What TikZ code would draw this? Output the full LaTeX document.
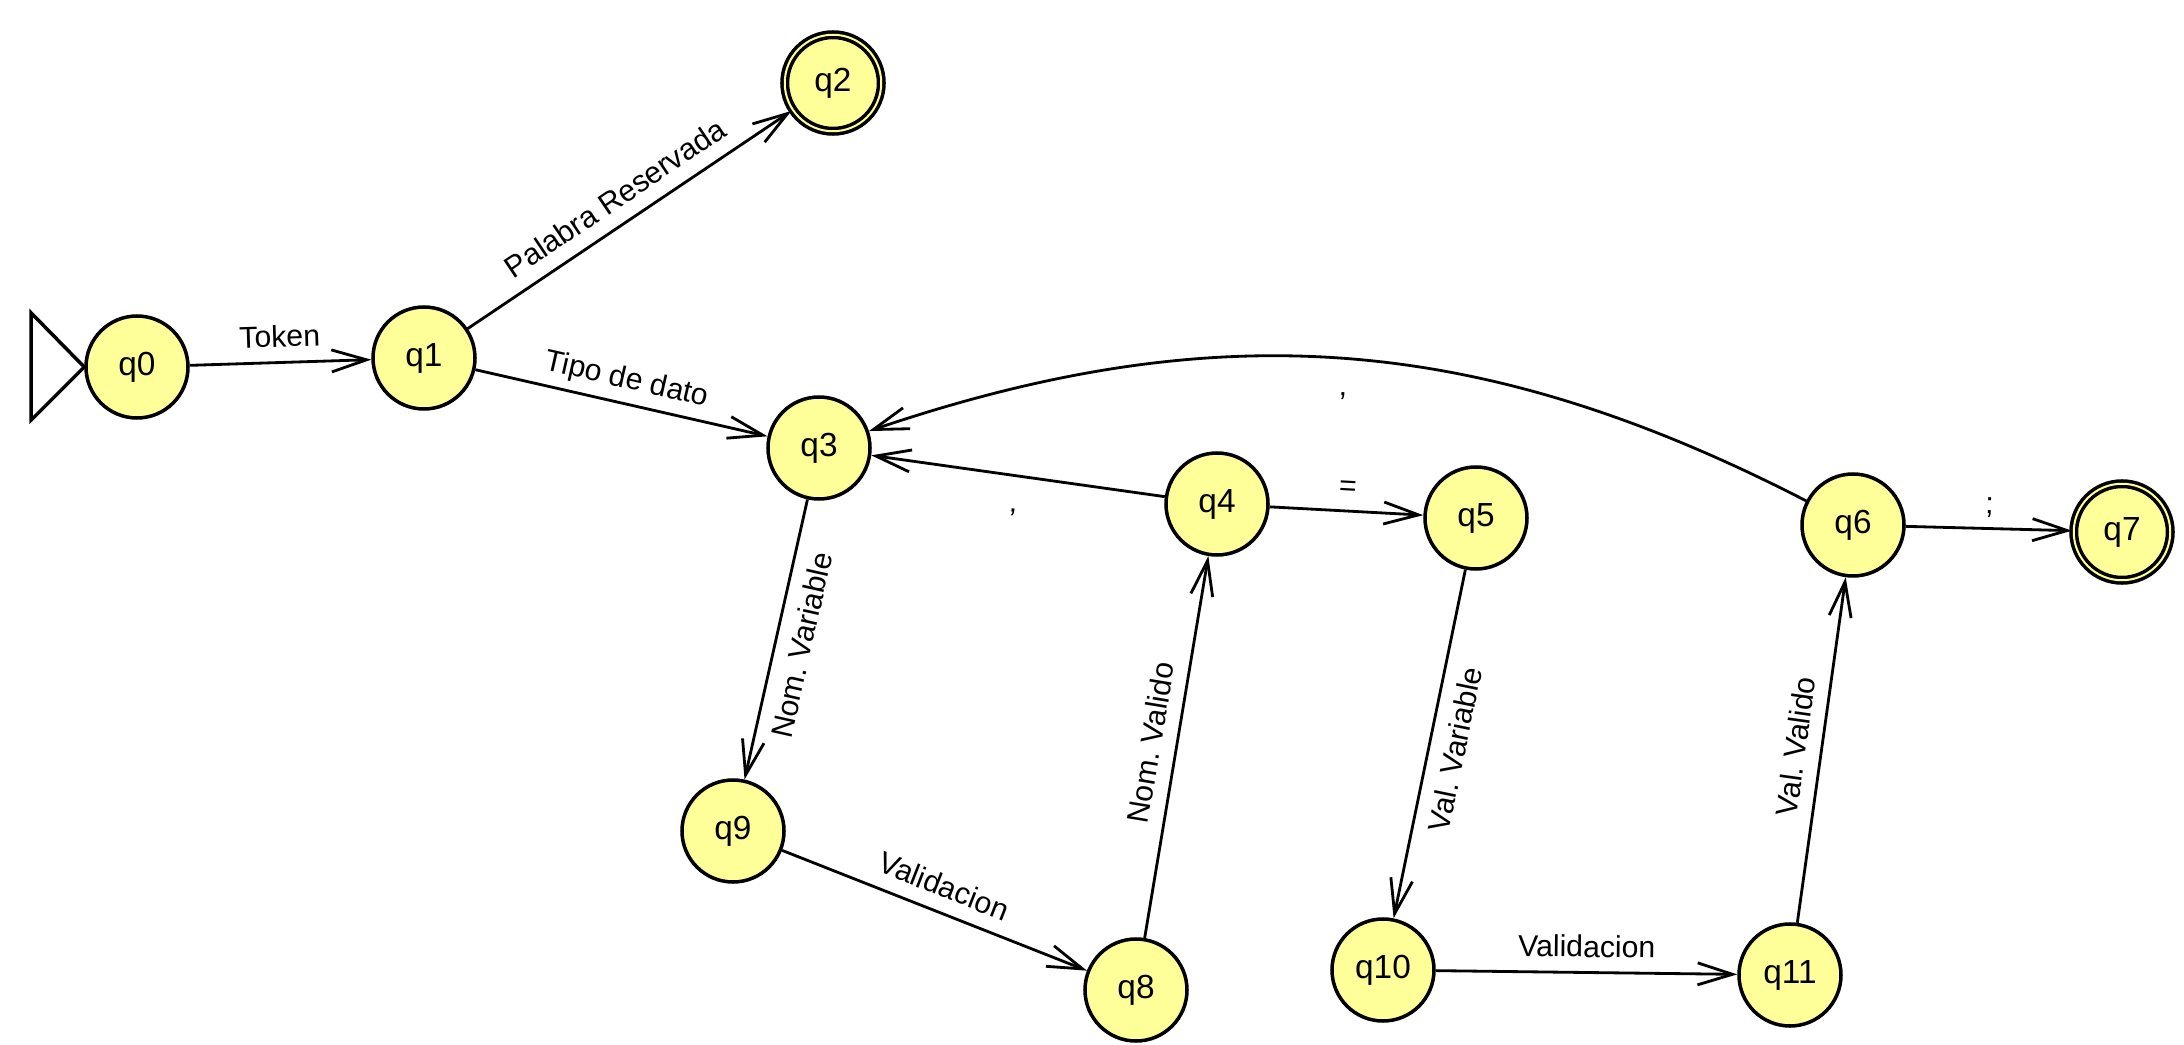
\documentclass[tikz,border=0pt]{standalone}
\usepackage{fontspec}
\setmainfont{Liberation Sans}
\usepackage{tikz}
\usetikzlibrary{arrows.meta,positioning}
\definecolor{amarillo}{RGB}{255,255,153}

\begin{document}
\begin{tikzpicture}[
    >={Straight Barb[length=3.5mm,width=2.2mm]},
    st/.style={draw, circle, fill=amarillo, line width=1pt, minimum size=1.02cm,
               inner sep=0pt, font=\fontsize{9.5}{11}\selectfont},
    fin/.style={st, minimum size=0.965cm, double=amarillo, double distance=0.2mm},
    lbl/.style={auto, sloped, inner sep=0.095cm, text height=0.26cm, text depth=0.045cm,
                font=\fontsize{8.6}{10}\selectfont},
    every edge/.style={draw, ->, line width=0.8pt}]
  \useasboundingbox (0,0) rectangle (21.84,10.44);

  \node[st] (q0) at (1.37,6.77) {q0};
  \node[st] (q1) at (4.24,6.86) {q1};
  \node[fin] (q2) at (8.33,9.61) {q2};
  \node[st] (q3) at (8.19,5.96) {q3};
  \node[st] (q4) at (12.17,5.40) {q4};
  \node[st] (q5) at (14.76,5.26) {q5};
  \node[st] (q6) at (18.53,5.19) {q6};
  \node[fin] (q7) at (21.22,5.12) {q7};
  \node[st] (q8) at (11.36,0.54) {q8};
  \node[st] (q9) at (7.33,2.13) {q9};
  \node[st] (q10) at (13.83,0.74) {q10};
  \node[st] (q11) at (17.90,0.69) {q11};

  % estado inicial
  \draw[line width=1pt, fill=white] (q0.west) -- ++(-0.53,0.54) -- ++(0,-1.07) -- cycle;

  \path (q0) edge node[lbl] {Token} (q1)
        (q1) edge node[lbl] {Palabra Reservada} (q2)
        (q1) edge node[lbl] {Tipo de dato} (q3)
        (q3) edge node[lbl, swap] {Nom.\ Variable} (q9)
        (q9) edge node[lbl] {Validacion} (q8)
        (q8) edge node[lbl] {Nom.\ Valido} (q4)
        (q4) edge node[lbl, swap] {,} (q3)
        (q4) edge node[lbl] {=} (q5)
        (q5) edge node[lbl, swap] {Val.\ Variable} (q10)
        (q10) edge node[lbl] {Validacion} (q11)
        (q11) edge node[lbl] {Val.\ Valido} (q6)
        (q6) edge node[lbl] {;} (q7)
        (q6) edge[bend right=23] node[lbl, swap] {,} (q3);
\end{tikzpicture}
\end{document}
